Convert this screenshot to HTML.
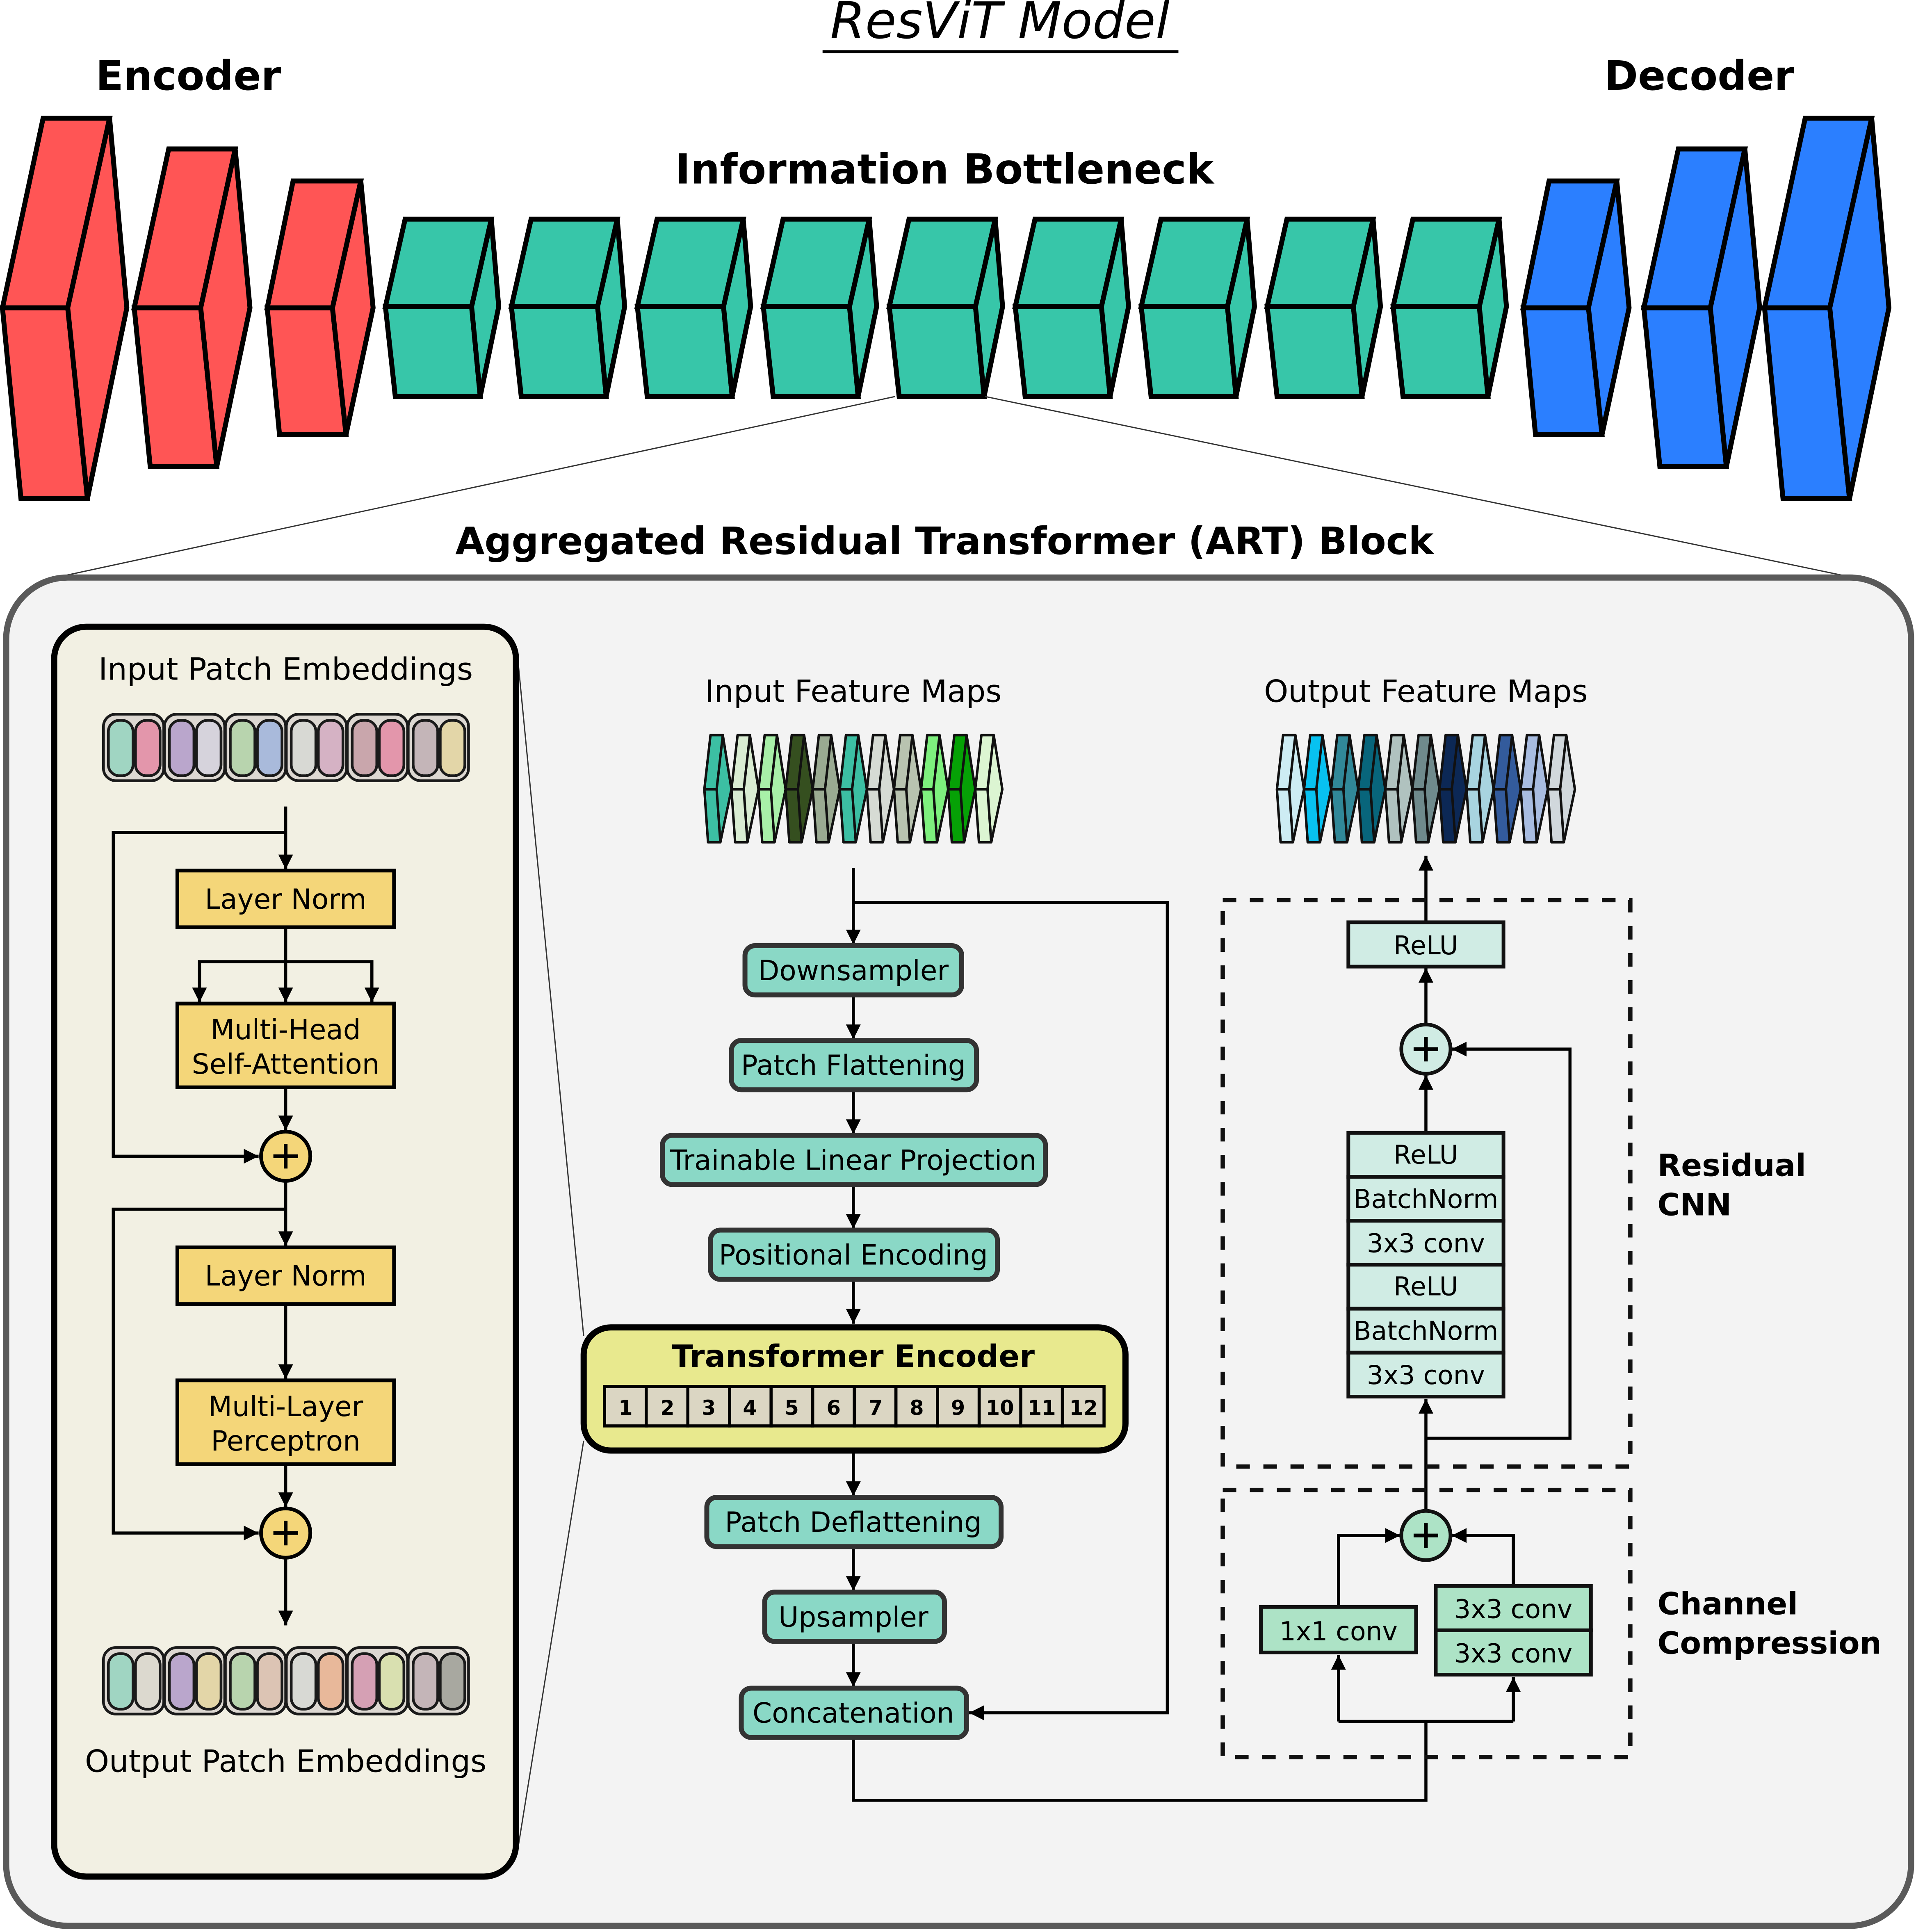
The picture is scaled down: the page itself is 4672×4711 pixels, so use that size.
<!DOCTYPE html>
<html><head><meta charset="utf-8">
<style>html,body{margin:0;padding:0;background:#fff}svg{display:block}</style>
</head><body>
<svg xmlns="http://www.w3.org/2000/svg" width="4672" height="4711" viewBox="0 0 1556 1569" font-family="'DejaVu Sans','Liberation Sans',sans-serif">
<defs>
<marker id="ah" viewBox="0 0 10 10" refX="10" refY="5" markerWidth="5.6" markerHeight="4.8" orient="auto" markerUnits="strokeWidth">
<path d="M0,0 L10,5 L0,10 z" fill="#000"/></marker>
</defs>
<rect width="1556" height="1569" fill="#fff"/>

<!-- Title -->
<text x="812" y="31" font-size="41" font-style="italic" text-anchor="middle">ResViT Model</text>
<line x1="668" y1="42" x2="957" y2="42" stroke="#000" stroke-width="2.5"/>
<text x="153" y="73" font-size="33" font-weight="bold" text-anchor="middle">Encoder</text>
<text x="1380" y="73" font-size="33" font-weight="bold" text-anchor="middle">Decoder</text>
<text x="767" y="149" font-size="33.5" font-weight="bold" text-anchor="middle">Information Bottleneck</text>

<g stroke="#000" stroke-width="4" stroke-linejoin="miter">
<g fill="#ff5555">
<polygon points="2,250 55,250 89,96 35,96"/><polygon points="2,250 55,250 71,405 17,405"/><polygon points="55,250 89,96 103,250 71,405"/>
<polygon points="109,250 163,250 191,121 137,121"/><polygon points="109,250 163,250 176,379 122,379"/><polygon points="163,250 191,121 203,250 176,379"/>
<polygon points="217,250 270,250 293,147 238,147"/><polygon points="217,250 270,250 281,353 227,353"/><polygon points="270,250 293,147 303,250 281,353"/>
</g>
<g fill="#2b7fff">
<polygon points="1237,250 1290,250 1313,147 1258,147"/><polygon points="1237,250 1290,250 1301,353 1247,353"/><polygon points="1290,250 1313,147 1323,250 1301,353"/>
<polygon points="1335,250 1389,250 1417,121 1363,121"/><polygon points="1335,250 1389,250 1402,379 1348,379"/><polygon points="1389,250 1417,121 1429,250 1402,379"/>
<polygon points="1433,250 1486,250 1520,96 1466,96"/><polygon points="1433,250 1486,250 1502,405 1448,405"/><polygon points="1486,250 1520,96 1534,250 1502,405"/>
</g>
<g fill="#37c6a9">
<g id="cube"><polygon points="313,249 383,249 399,178 329,178"/><polygon points="313,249 383,249 390,322 321,322"/><polygon points="383,249 399,178 405,249 390,322"/></g>
<use href="#cube" x="102.3"/><use href="#cube" x="204.6"/><use href="#cube" x="306.9"/><use href="#cube" x="409.2"/><use href="#cube" x="511.5"/><use href="#cube" x="613.8"/><use href="#cube" x="716.1"/><use href="#cube" x="818.4"/>
</g>
</g>

<line x1="727" y1="322" x2="50" y2="468" stroke="#333" stroke-width="1"/>
<line x1="800" y1="322" x2="1500" y2="468" stroke="#333" stroke-width="1"/>

<text x="767" y="450" font-size="30.7" font-weight="bold" text-anchor="middle">Aggregated Residual Transformer (ART) Block</text>

<rect x="5" y="469" width="1547" height="1095" rx="50" fill="#f3f3f3" stroke="#5a5a5a" stroke-width="5"/>

<line x1="420" y1="530" x2="474" y2="1085" stroke="#333" stroke-width="1"/>
<line x1="420" y1="1505" x2="474" y2="1170" stroke="#333" stroke-width="1"/>

<rect x="44" y="509" width="375" height="1015" rx="26" fill="#f2f0e3" stroke="#000" stroke-width="5"/>
<text x="232" y="552" font-size="25" text-anchor="middle">Input Patch Embeddings</text>
<text x="232" y="1439" font-size="25" text-anchor="middle">Output Patch Embeddings</text>

<g stroke="#1a1a1a" stroke-width="2.2">
<g>
<rect x="84" y="580" width="49" height="54" rx="10" fill="#ddd8d2"/>
<rect x="88" y="585" width="20" height="45" rx="9" fill="#a0d5c2"/><rect x="110" y="585" width="20" height="45" rx="9" fill="#e396ab"/>
<rect x="133.5" y="580" width="49" height="54" rx="10" fill="#ddd8d2"/>
<rect x="137.5" y="585" width="20" height="45" rx="9" fill="#baa6cc"/><rect x="159.5" y="585" width="20" height="45" rx="9" fill="#d6d3dc"/>
<rect x="183" y="580" width="49" height="54" rx="10" fill="#ddd8d2"/>
<rect x="187" y="585" width="20" height="45" rx="9" fill="#b8d4ae"/><rect x="209" y="585" width="20" height="45" rx="9" fill="#a9badb"/>
<rect x="232.5" y="580" width="49" height="54" rx="10" fill="#ddd8d2"/>
<rect x="236.5" y="585" width="20" height="45" rx="9" fill="#d8d9d4"/><rect x="258.5" y="585" width="20" height="45" rx="9" fill="#d5b2c4"/>
<rect x="282" y="580" width="49" height="54" rx="10" fill="#ddd8d2"/>
<rect x="286" y="585" width="20" height="45" rx="9" fill="#c9a6ac"/><rect x="308" y="585" width="20" height="45" rx="9" fill="#e396ab"/>
<rect x="331.5" y="580" width="49" height="54" rx="10" fill="#ddd8d2"/>
<rect x="335.5" y="585" width="20" height="45" rx="9" fill="#c4b5b8"/><rect x="357.5" y="585" width="20" height="45" rx="9" fill="#e3d6a8"/>
</g>
<g transform="translate(0,758)">
<rect x="84" y="580" width="49" height="54" rx="10" fill="#ddd8d2"/>
<rect x="88" y="585" width="20" height="45" rx="9" fill="#a0d5c2"/><rect x="110" y="585" width="20" height="45" rx="9" fill="#dcd9cf"/>
<rect x="133.5" y="580" width="49" height="54" rx="10" fill="#ddd8d2"/>
<rect x="137.5" y="585" width="20" height="45" rx="9" fill="#baa6cc"/><rect x="159.5" y="585" width="20" height="45" rx="9" fill="#e3d6a8"/>
<rect x="183" y="580" width="49" height="54" rx="10" fill="#ddd8d2"/>
<rect x="187" y="585" width="20" height="45" rx="9" fill="#b8d4ae"/><rect x="209" y="585" width="20" height="45" rx="9" fill="#dcc4b4"/>
<rect x="232.5" y="580" width="49" height="54" rx="10" fill="#ddd8d2"/>
<rect x="236.5" y="585" width="20" height="45" rx="9" fill="#d8d9d4"/><rect x="258.5" y="585" width="20" height="45" rx="9" fill="#e8b89a"/>
<rect x="282" y="580" width="49" height="54" rx="10" fill="#ddd8d2"/>
<rect x="286" y="585" width="20" height="45" rx="9" fill="#d5a0b4"/><rect x="308" y="585" width="20" height="45" rx="9" fill="#d9e0b0"/>
<rect x="331.5" y="580" width="49" height="54" rx="10" fill="#ddd8d2"/>
<rect x="335.5" y="585" width="20" height="45" rx="9" fill="#c4b5b8"/><rect x="357.5" y="585" width="20" height="45" rx="9" fill="#a8a8a0"/>
</g>
</g>

<g stroke="#000" stroke-width="2.5" fill="none">
<line x1="232" y1="655" x2="232" y2="706" marker-end="url(#ah)"/>
<polyline points="232,676 92,676 92,939 210,939" marker-end="url(#ah)"/>
<line x1="232" y1="753" x2="232" y2="814" marker-end="url(#ah)"/>
<polyline points="162,814 162,781 302,781 302,814" marker-end="url(#ah)"/>
<line x1="162" y1="781" x2="162" y2="814" marker-end="url(#ah)"/>
<line x1="232" y1="883" x2="232" y2="918" marker-end="url(#ah)"/>
<line x1="232" y1="960" x2="232" y2="1012" marker-end="url(#ah)"/>
<polyline points="232,982 92,982 92,1245 210,1245" marker-end="url(#ah)"/>
<line x1="232" y1="1059" x2="232" y2="1120" marker-end="url(#ah)"/>
<line x1="232" y1="1189" x2="232" y2="1224" marker-end="url(#ah)"/>
<line x1="232" y1="1266" x2="232" y2="1320" marker-end="url(#ah)"/>
</g>
<g stroke="#000" stroke-width="3" fill="#f4d679">
<rect x="144" y="707" width="176" height="46"/>
<rect x="144" y="815" width="176" height="68"/>
<rect x="144" y="1013" width="176" height="46"/>
<rect x="144" y="1121" width="176" height="68"/>
<circle cx="232" cy="939" r="20"/>
<circle cx="232" cy="1245" r="20"/>
</g>
<g font-size="22.5" text-anchor="middle">
<text x="232" y="738">Layer Norm</text>
<text x="232" y="844">Multi-Head</text><text x="232" y="872">Self-Attention</text>
<text x="232" y="1044">Layer Norm</text>
<text x="232" y="1150">Multi-Layer</text><text x="232" y="1178">Perceptron</text>
</g>
<g stroke="#000" stroke-width="3">
<line x1="222" y1="939" x2="242" y2="939"/><line x1="232" y1="929" x2="232" y2="949"/>
<line x1="222" y1="1245" x2="242" y2="1245"/><line x1="232" y1="1235" x2="232" y2="1255"/>
</g>

<text x="693" y="570" font-size="25" text-anchor="middle">Input Feature Maps</text>
<text x="1158" y="570" font-size="25" text-anchor="middle">Output Feature Maps</text>
<defs>
<g id="sl"><polygon points="5,597 15,597 22,641 13,684 3,684 0,641"/><polyline points="15,597 10,641 13,684" fill="none"/><line x1="0" y1="641" x2="10" y2="641"/></g>
</defs>
<g stroke="#111" stroke-width="2" stroke-linejoin="round">
<use href="#sl" x="572" fill="#3cbfa3"/>
<use href="#sl" x="594" fill="#d9ecd2"/>
<use href="#sl" x="616" fill="#a8f0a8"/>
<use href="#sl" x="638" fill="#354f1f"/>
<use href="#sl" x="660" fill="#9aaa92"/>
<use href="#sl" x="682" fill="#3cbfa3"/>
<use href="#sl" x="704" fill="#d6dbd4"/>
<use href="#sl" x="726" fill="#b8c3b0"/>
<use href="#sl" x="748" fill="#7ef07e"/>
<use href="#sl" x="770" fill="#06a106"/>
<use href="#sl" x="792" fill="#dcf5d2"/>
<use href="#sl" x="1037" fill="#cdecf3"/>
<use href="#sl" x="1059" fill="#08c1f0"/>
<use href="#sl" x="1081" fill="#318898"/>
<use href="#sl" x="1103" fill="#08657b"/>
<use href="#sl" x="1125" fill="#b0c2bf"/>
<use href="#sl" x="1147" fill="#6f8a8c"/>
<use href="#sl" x="1169" fill="#0c2855"/>
<use href="#sl" x="1191" fill="#a8d4e0"/>
<use href="#sl" x="1213" fill="#335b9c"/>
<use href="#sl" x="1235" fill="#a8bce0"/>
<use href="#sl" x="1257" fill="#d1d8dc"/>
</g>

<g stroke="#000" stroke-width="2.5" fill="none">
<line x1="693" y1="705" x2="693" y2="767" marker-end="url(#ah)"/>
<polyline points="693,733 948,733 948,1391 787,1391" marker-end="url(#ah)"/>
<line x1="693" y1="808" x2="693" y2="844" marker-end="url(#ah)"/>
<line x1="693" y1="885" x2="693" y2="921" marker-end="url(#ah)"/>
<line x1="693" y1="962" x2="693" y2="998" marker-end="url(#ah)"/>
<line x1="693" y1="1039" x2="693" y2="1075" marker-end="url(#ah)"/>
<line x1="693" y1="1179" x2="693" y2="1215" marker-end="url(#ah)"/>
<line x1="693" y1="1256" x2="693" y2="1292" marker-end="url(#ah)"/>
<line x1="693" y1="1333" x2="693" y2="1370" marker-end="url(#ah)"/>
<polyline points="693,1411 693,1462 1158,1462 1158,1398"/>
<polyline points="1087,1398 1229,1398"/>
<line x1="1087" y1="1398" x2="1087" y2="1344" marker-end="url(#ah)"/>
<line x1="1229" y1="1398" x2="1229" y2="1362" marker-end="url(#ah)"/>
<polyline points="1087,1305 1087,1247 1137,1247" marker-end="url(#ah)"/>
<polyline points="1229,1288 1229,1247 1179,1247" marker-end="url(#ah)"/>
<line x1="1158" y1="1227" x2="1158" y2="1136" marker-end="url(#ah)"/>
<polyline points="1158,1168 1275,1168 1275,852 1179,852" marker-end="url(#ah)"/>
<line x1="1158" y1="920" x2="1158" y2="873" marker-end="url(#ah)"/>
<line x1="1158" y1="832" x2="1158" y2="786" marker-end="url(#ah)"/>
<line x1="1158" y1="749" x2="1158" y2="695" marker-end="url(#ah)"/>
</g>

<g fill="#8ad8c6" stroke="#333" stroke-width="4">
<rect x="605" y="768" width="176" height="40" rx="8"/>
<rect x="594" y="845" width="199" height="40" rx="8"/>
<rect x="538" y="922" width="311" height="40" rx="8"/>
<rect x="577" y="999" width="233" height="40" rx="8"/>
<rect x="574" y="1216" width="239" height="40" rx="8"/>
<rect x="621" y="1293" width="146" height="40" rx="8"/>
<rect x="602" y="1371" width="183" height="40" rx="8"/>
</g>
<g font-size="22.5" text-anchor="middle">
<text x="693" y="796">Downsampler</text>
<text x="693" y="873">Patch Flattening</text>
<text x="693" y="950">Trainable Linear Projection</text>
<text x="693" y="1027">Positional Encoding</text>
<text x="693" y="1244">Patch Deflattening</text>
<text x="693" y="1321">Upsampler</text>
<text x="693" y="1399">Concatenation</text>
</g>

<rect x="474" y="1078" width="440" height="100" rx="22" fill="#e8e98e" stroke="#000" stroke-width="5"/>
<text x="693" y="1110" font-size="25" font-weight="bold" text-anchor="middle">Transformer Encoder</text>
<g fill="#dbd6c3" stroke="#000" stroke-width="2.5">
<rect x="491" y="1126" width="33.8" height="32"/><rect x="524.8" y="1126" width="33.8" height="32"/><rect x="558.6" y="1126" width="33.8" height="32"/><rect x="592.4" y="1126" width="33.8" height="32"/><rect x="626.2" y="1126" width="33.8" height="32"/><rect x="660" y="1126" width="33.8" height="32"/><rect x="693.8" y="1126" width="33.8" height="32"/><rect x="727.6" y="1126" width="33.8" height="32"/><rect x="761.4" y="1126" width="33.8" height="32"/><rect x="795.2" y="1126" width="33.8" height="32"/><rect x="829" y="1126" width="33.8" height="32"/><rect x="862.8" y="1126" width="33.8" height="32"/>
</g>
<g font-size="16.5" font-weight="bold" text-anchor="middle">
<text x="508" y="1149">1</text><text x="542" y="1149">2</text><text x="575.5" y="1149">3</text><text x="609" y="1149">4</text><text x="643" y="1149">5</text><text x="677" y="1149">6</text><text x="711" y="1149">7</text><text x="744.5" y="1149">8</text><text x="778" y="1149">9</text><text x="812" y="1149">10</text><text x="846" y="1149">11</text><text x="880" y="1149">12</text>
</g>

<g fill="none" stroke="#111" stroke-width="3.5" stroke-dasharray="11 11">
<rect x="993" y="731" width="331" height="460"/>
<rect x="993" y="1210" width="331" height="217"/>
</g>

<g fill="#d0ece4" stroke="#111" stroke-width="3">
<rect x="1095" y="749" width="126" height="36"/>
<rect x="1095" y="920" width="126" height="35.7"/><rect x="1095" y="955.7" width="126" height="35.7"/><rect x="1095" y="991.4" width="126" height="35.7"/><rect x="1095" y="1027.1" width="126" height="35.7"/><rect x="1095" y="1062.8" width="126" height="35.7"/><rect x="1095" y="1098.5" width="126" height="35.7"/>
<circle cx="1158" cy="852" r="20"/>
</g>
<g fill="#ade3c6" stroke="#111" stroke-width="3">
<rect x="1024" y="1305" width="126" height="37"/>
<rect x="1166" y="1288" width="126" height="36"/><rect x="1166" y="1324" width="126" height="36"/>
<circle cx="1158" cy="1247" r="20"/>
</g>
<g stroke="#000" stroke-width="3">
<line x1="1148" y1="852" x2="1168" y2="852"/><line x1="1158" y1="842" x2="1158" y2="862"/>
<line x1="1148" y1="1247" x2="1168" y2="1247"/><line x1="1158" y1="1237" x2="1158" y2="1257"/>
</g>
<g font-size="21" text-anchor="middle">
<text x="1158" y="775">ReLU</text>
<text x="1158" y="945">ReLU</text><text x="1158" y="981">BatchNorm</text><text x="1158" y="1017">3x3 conv</text>
<text x="1158" y="1052">ReLU</text><text x="1158" y="1088">BatchNorm</text><text x="1158" y="1124">3x3 conv</text>
<text x="1087" y="1332">1x1 conv</text>
<text x="1229" y="1314">3x3 conv</text><text x="1229" y="1350">3x3 conv</text>
</g>
<g font-size="25" font-weight="bold">
<text x="1346" y="955">Residual</text><text x="1346" y="987">CNN</text>
<text x="1346" y="1311">Channel</text><text x="1346" y="1343">Compression</text>
</g>
</svg>
</body></html>
